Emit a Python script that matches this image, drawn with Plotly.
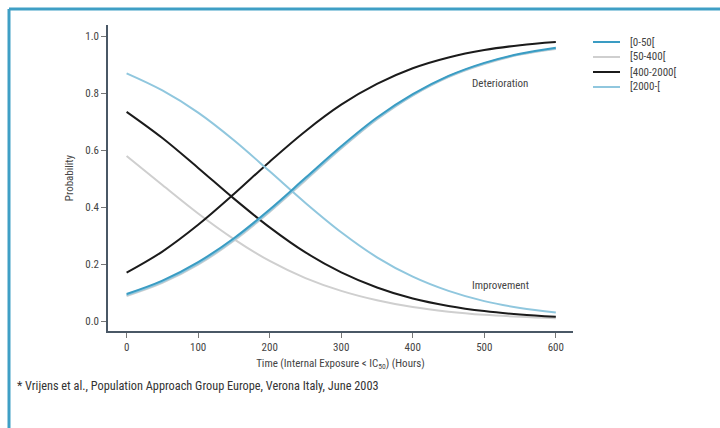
import plotly.graph_objects as go

# Hours since internal exposure fell below IC50
hours = [0, 50, 100, 150, 200, 250, 300, 350, 400, 450, 500, 550, 600]

# Probability of deterioration (rising curves) by exposure group
det_0_50 = [0.095, 0.142, 0.207, 0.291, 0.392, 0.503, 0.614, 0.715, 0.797, 0.861, 0.907, 0.939, 0.960]
det_50_400 = [0.088, 0.134, 0.198, 0.282, 0.383, 0.494, 0.606, 0.708, 0.792, 0.857, 0.903, 0.936, 0.956]
det_400_2000 = [0.170, 0.244, 0.338, 0.446, 0.560, 0.667, 0.760, 0.833, 0.888, 0.926, 0.952, 0.969, 0.980]
det_2000 = [0.091, 0.138, 0.202, 0.286, 0.387, 0.498, 0.609, 0.711, 0.794, 0.859, 0.905, 0.937, 0.957]

# Probability of improvement (falling curves) by exposure group
imp_50_400 = [0.580, 0.478, 0.378, 0.288, 0.211, 0.151, 0.106, 0.073, 0.049, 0.033, 0.022, 0.015, 0.010]
imp_400_2000 = [0.735, 0.643, 0.538, 0.430, 0.329, 0.241, 0.171, 0.118, 0.079, 0.053, 0.035, 0.023, 0.015]
imp_2000 = [0.870, 0.810, 0.732, 0.635, 0.526, 0.415, 0.312, 0.224, 0.156, 0.106, 0.070, 0.046, 0.030]

x_ticks = [0, 100, 200, 300, 400, 500, 600]
y_ticks = [0.0, 0.2, 0.4, 0.6, 0.8, 1.0]

TEAL = "#3a9cc3"
GRAY = "#cfcfcf"
BLACK = "#1b1b1b"
LIGHT = "#90c7de"
FONT = "Arial Narrow, Roboto Condensed, sans-serif"
TXT = "#444444"
FS = 11

# (label, colour, curves, draw order)
groups = [
    ("[0-50[", TEAL, [det_0_50], 4),
    ("[50-400[", GRAY, [det_50_400, imp_50_400], 1),
    ("[400-2000[", BLACK, [det_400_2000, imp_400_2000], 2),
    ("[2000-[", LIGHT, [det_2000, imp_2000], 3),
]

fig = go.Figure()
# gray underneath, teal on top
for name, color, series, z in sorted(groups, key=lambda g: g[3]):
    for ys in series:
        fig.add_trace(go.Scatter(
            x=hours, y=ys, mode="lines", name=name,
            line=dict(color=color, width=2, shape="spline", smoothing=1.0),
            showlegend=False, hoverinfo="skip",
        ))

# plot area in pixels: x 108..573, y 25..331
L, R, T, B = 108, 573, 25, 331
W, H = 720, 428

def px(xp):
    return (xp - L) / (R - L)

def py(yp):
    return (B - yp) / (B - T)

shapes = [
    # frame along the left and top edges
    dict(type="line", xref="paper", yref="paper", x0=px(9), x1=px(720), y0=py(9), y1=py(9),
         line=dict(color="#3f9fc5", width=3)),
    dict(type="line", xref="paper", yref="paper", x0=px(9), x1=px(9), y0=py(9), y1=py(428),
         line=dict(color="#3f9fc5", width=3)),
]

annotations = [
    dict(text="Deterioration", x=522, y=0.835, xref="x", yref="y", showarrow=False,
         font=dict(size=FS, color=TXT, family=FONT)),
    dict(text="Improvement", x=522, y=0.125, xref="x", yref="y", showarrow=False,
         font=dict(size=FS, color=TXT, family=FONT)),
    dict(text="* Vrijens et al., Population Approach Group Europe, Verona Italy, June 2003",
         x=px(15), y=py(386), xref="paper", yref="paper", xanchor="left", yanchor="middle",
         showarrow=False, font=dict(size=12.3, color="#333333", family=FONT)),
]

# legend: short line sample and label per group, stacked 15 px apart
for i, (name, color, series, z) in enumerate(groups):
    row = 42 + 15 * i
    shapes.append(dict(type="line", xref="paper", yref="paper",
                       x0=px(593), x1=px(620), y0=py(row), y1=py(row),
                       line=dict(color=color, width=2)))
    annotations.append(dict(text=name, x=px(628), y=py(row), xref="paper", yref="paper",
                            xanchor="left", yanchor="middle", showarrow=False,
                            font=dict(size=FS, color=TXT, family=FONT)))

fig.update_layout(
    width=W, height=H,
    margin=dict(l=L, r=W - R, t=T, b=H - B),
    paper_bgcolor="white", plot_bgcolor="white",
    font=dict(family=FONT, size=FS, color=TXT),
    shapes=shapes, annotations=annotations, showlegend=False,
    xaxis=dict(range=[-26, 624], tickvals=x_ticks, ticks="outside", ticklen=5,
               tickcolor="#777777", showline=True, linecolor="#4a5866", linewidth=1.5,
               showgrid=False, zeroline=False, tickfont=dict(size=FS, color=TXT),
               title=dict(text="Time (Internal Exposure < IC<sub>50</sub>) (Hours)",
                          font=dict(size=FS, color=TXT), standoff=6)),
    yaxis=dict(range=[-0.035, 1.04], tickvals=y_ticks, tickformat=".1f", ticks="outside",
               ticklen=5, tickcolor="#777777", showline=True, linecolor="#4a5866",
               linewidth=1.5, showgrid=False, zeroline=False,
               tickfont=dict(size=FS, color=TXT),
               title=dict(text="Probability", font=dict(size=FS, color=TXT), standoff=9)),
)

fig.write_html("out.html")
